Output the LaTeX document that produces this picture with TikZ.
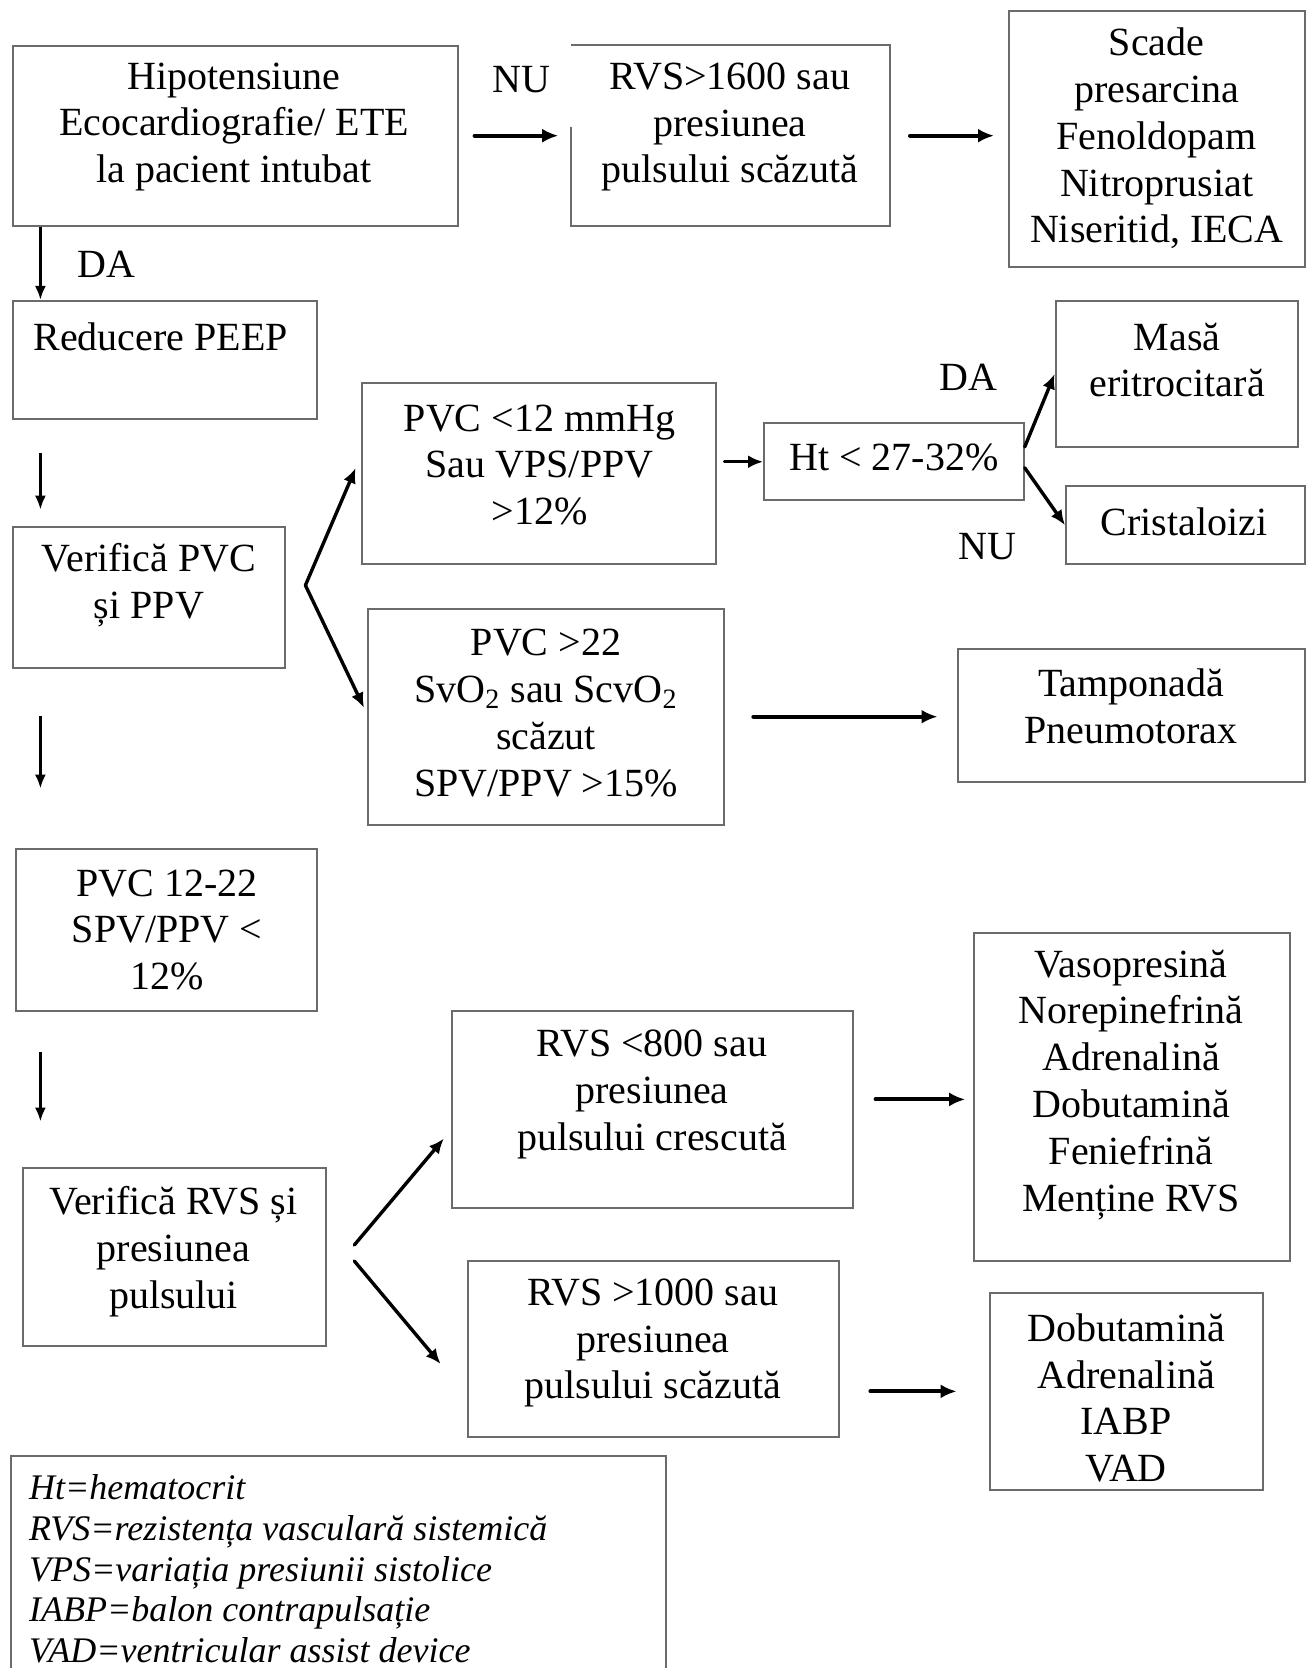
\documentclass[tikz,border=0pt]{standalone}
\usepackage{fontspec}
\setmainfont{Liberation Serif}
\usetikzlibrary{arrows.meta,fit}
\definecolor{boxgray}{gray}{0.42}
\begin{document}
\begin{tikzpicture}[x=0.5pt,y=-0.5pt,
  box/.style={draw=boxgray,line width=1pt,inner sep=0pt,rectangle},
  nobox/.style={inner sep=0pt,rectangle},
  txt/.style={align=center,inner sep=0pt,font=\fontsize{20}{23.4}\selectfont},
  lbl/.style={inner sep=0pt,font=\fontsize{20}{23.4}\selectfont},
  arr/.style={line width=2pt,line cap=round,-{Latex[length=8pt,width=7pt]}},
  barr/.style={line width=1.7pt,line cap=round,-{Latex[length=7.5pt,width=6.5pt]}},
  varr/.style={line width=1.4pt,-{Latex[length=7pt,width=5.5pt]}},
  legend/.style={align=left,inner sep=0pt,font=\fontsize{18}{20.35}\selectfont\itshape}]
\useasboundingbox (0,0) rectangle (1312,1668);

% boxes
\node[box,fit={(12.8,45.8)(457.6,225.6)}] (hipo) {};
\node[txt] (hipoT) at (234,127) {Hipotensiune\\Ecocardiografie/ ETE\\la pacient intubat};

\node[nobox,fit={(571.4,45.8)(889.6,225.6)}] (rvsA) {};
\coordinate (gapEnd) at (0,127);
\draw[draw=boxgray,line width=1pt] (rvsA.west |- gapEnd) -- (rvsA.south west) -- (rvsA.south east) -- (rvsA.north east) -- (rvsA.north west);
\node[txt] (rvsAT) at (730,127) {RVS>1600 sau\\presiunea\\pulsului scăzută};

\node[box,fit={(1008.8,10.6)(1304.6,267)}] (scade) {};
\node[txt] (scadeT) at (1156.7,138.5) {Scade\\presarcina\\Fenoldopam\\Nitroprusiat\\Niseritid, IECA};

\node[box,fit={(12.8,301)(317,419)}] (reduc) {};
\node[txt] (reducT) at (160.7,337.3) {Reducere PEEP};

\node[box,fit={(12.8,526.7)(285,668.3)}] (verpvc) {};
\node[txt] (verpvcT) at (149,585) {Verifică PVC\\și PPV};

\node[box,fit={(16,849)(317,1011)}] (pvcmid) {};
\node[txt] (pvcmidT) at (167,930) {PVC 12-22\\SPV/PPV <\\12\%};

\node[box,fit={(23.4,1168.4)(325.6,1346)}] (verrvs) {};
\node[txt] (verrvsT) at (173.5,1251.4) {Verifică RVS și\\presiunea\\pulsului};

\node[box,fit={(361.8,383)(716.1,564)}] (pvclo) {};
\node[txt] (pvcloT) at (539.5,465) {PVC <12 mmHg\\Sau VPS/PPV\\>12\%};

\node[box,fit={(368,608.7)(723.6,824.7)}] (pvchi) {};
\node[txt] (pvchiT) at (546,713) {PVC >22\\SvO\textsubscript{2} sau ScvO\textsubscript{2}\\scăzut\\SPV/PPV >15\%};

\node[box,fit={(764,423.5)(1023.7,500)}] (ht) {};
\node[txt] (htT) at (894,457.6) {Ht < 27-32\%};

\node[box,fit={(1055.6,301)(1298,447)}] (masa) {};
\node[txt] (masaT) at (1177,360) {Masă\\eritrocitară};

\node[box,fit={(1066,486.3)(1304.6,564)}] (crist) {};
\node[txt] (cristT) at (1184,521.4) {Cristaloizi};

\node[box,fit={(957.7,649)(1304.6,782)}] (tamp) {};
\node[txt] (tampT) at (1131,706.6) {Tamponadă\\Pneumotorax};

\node[box,fit={(452,1011)(853.4,1207.8)}] (rvslo) {};
\node[txt] (rvsloT) at (652,1094.3) {RVS <800 sau\\presiunea\\pulsului crescută};

\node[box,fit={(468,1261)(838.5,1436.5)}] (rvshi) {};
\node[txt] (rvshiT) at (653,1343) {RVS >1000 sau\\presiunea\\pulsului scăzută};

\node[box,fit={(973.6,933.2)(1289.7,1261)}] (vaso) {};
\node[txt] (vasoT) at (1131,1084.6) {Vasopresină\\Norepinefrină\\Adrenalină\\Dobutamină\\Feniefrină\\Menține RVS};

\node[box,fit={(989.6,1293)(1263,1489.7)}] (dobu) {};
\node[txt] (dobuT) at (1126,1398) {Dobutamină\\Adrenalină\\IABP\\VAD};

\node[box,fit={(10.6,1455.7)(666,1720)}] (leg) {};
\node[legend,anchor=west] (legT) at (28.7,1569) {Ht=hematocrit\\RVS=rezistența vasculară sistemică\\VPS=variația presiunii sistolice\\IABP=balon contrapulsație\\VAD=ventricular assist device};

% labels
\node[lbl] (nuA) at (521,80) {NU};
\node[lbl] (daA) at (106.4,264) {DA};
\node[lbl] (daB) at (968,377.8) {DA};
\node[lbl] (nuB) at (987.5,547) {NU};

% connectors
\draw[arr,shorten <=8pt,shorten >=6.4pt] (hipo.east) -- (hipo.east -| rvsA.west);
\draw[arr,shorten <=10pt,shorten >=6.9pt] (rvsA.east) -- (rvsA.east -| scade.west);

\coordinate (vx) at (40.4,0);
\draw[varr] (vx |- hipo.south) -- (vx |- reduc.north);
\draw[varr,shorten <=16.5pt,shorten >=8pt] (vx |- reduc.south) -- (vx |- verpvc.north);
\draw[varr,shorten <=23.3pt,shorten >=29.7pt] (vx |- verpvc.south) -- (vx |- pvcmid.north);
\draw[varr,shorten <=20pt,shorten >=22.9pt] (vx |- pvcmid.south) -- (vx |- verrvs.north);

\coordinate (j1) at (305.4,585.3);
\draw[barr] (j1) -- ([shift={(-2.6pt,2.7pt)}]pvclo.west);
\draw[barr] (j1) -- ([shift={(-1.5pt,4.5pt)}]pvchi.west);

\draw[barr,shorten <=3.7pt] (pvclo.east |- ht.west) -- (ht.west);
\draw[barr] ([yshift=7.4pt]ht.east) -- (masa.west);
\draw[barr] ([yshift=-3pt]ht.east) -- (crist.west);

\draw[arr,shorten <=14.35pt,shorten >=9.6pt] (pvchi.east) -- (pvchi.east -| tamp.west);

\coordinate (j2a) at (354.3,1245);
\coordinate (j2b) at (354.3,1261);
\draw[barr] (j2a) -- ([shift={(-3.6pt,-14.6pt)}]rvslo.west);
\draw[barr] (j2b) -- ([shift={(-13.2pt,-7.6pt)}]rvshi.west);

\coordinate (r1s) at ([yshift=5pt]rvslo.east);
\draw[arr,shorten <=10.6pt,shorten >=3.7pt] (r1s) -- (r1s -| vaso.west);
\draw[arr,shorten <=15.45pt,shorten >=16pt] (dobu.west -| rvshi.east) -- (dobu.west);
\end{tikzpicture}
\end{document}
